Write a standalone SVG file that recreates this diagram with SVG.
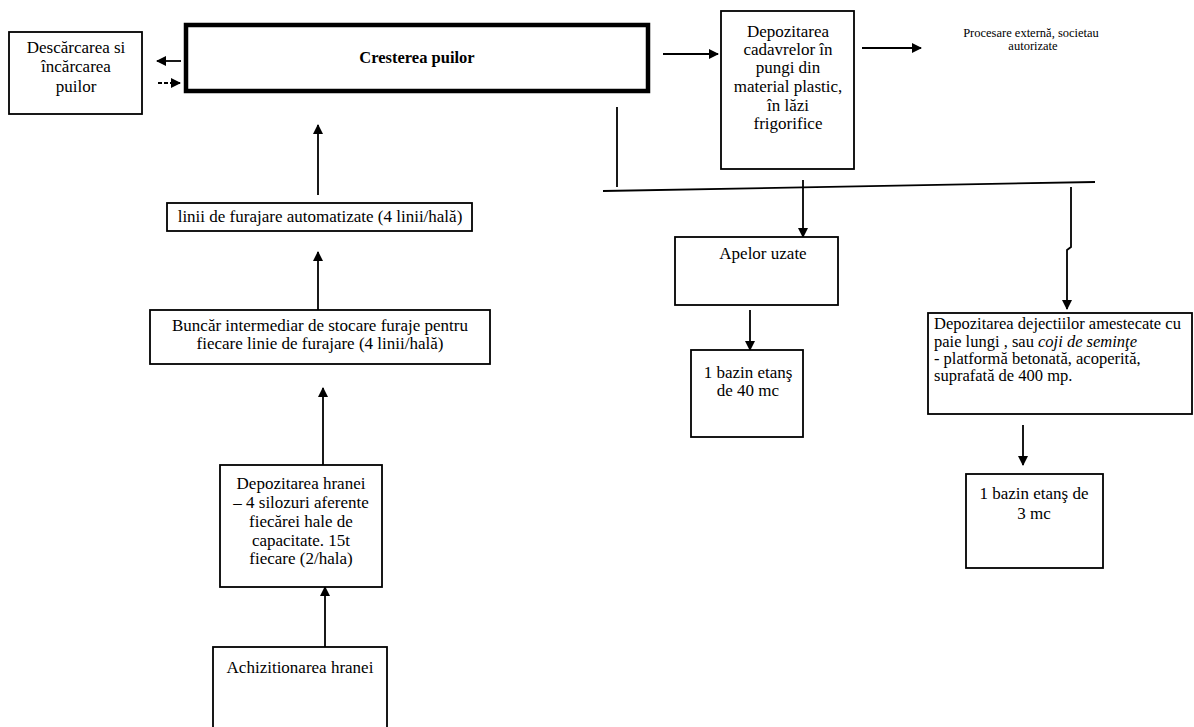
<svg xmlns="http://www.w3.org/2000/svg" width="1194" height="727" viewBox="0 0 1194 727">
<style>
.box{fill:#fff;stroke:#000;stroke-width:1.8}
.thick{fill:#fff;stroke:#000;stroke-width:4.5}
.t{font-family:"Liberation Serif","Times New Roman",serif;font-size:17px;fill:#000}
.c{text-anchor:middle}
.b{font-weight:bold;font-size:16.5px}
.s{font-size:12.5px}
.m{font-size:16.5px}
.ln{fill:none;stroke:#000;stroke-width:1.8}
.ar{fill:none;stroke:#000;stroke-width:1.8;marker-end:url(#ah)}
.da{stroke-dasharray:4 2}
</style>
<defs>
<marker id="ah" markerUnits="userSpaceOnUse" markerWidth="10" markerHeight="12" viewBox="0 0 10 12" refX="9" refY="6" orient="auto">
<path d="M0,1 L10,6 L0,11 Z" fill="#000"/>
</marker>
</defs>
<rect width="1194" height="727" fill="#fff"/>
<g id="connectors">
<line class="ar" x1="181" y1="61" x2="157" y2="61"/>
<line class="ar da" x1="158" y1="83" x2="180" y2="83"/>
<line class="ar" x1="663" y1="54" x2="718" y2="54"/>
<line class="ar" x1="862" y1="48" x2="921" y2="48"/>
<line class="ln" x1="617" y1="107" x2="617" y2="187"/>
<line class="ln" x1="603" y1="191" x2="1095" y2="182"/>
<line class="ar" x1="803" y1="180" x2="803" y2="237"/>
<polyline class="ar" points="1071,187 1071,247 1067,250 1067,309"/>
<line class="ar" x1="750" y1="310" x2="750" y2="350"/>
<line class="ar" x1="1023" y1="425" x2="1023" y2="465"/>
<line class="ar" x1="318" y1="195" x2="318" y2="125"/>
<line class="ar" x1="318" y1="310" x2="318" y2="252"/>
<line class="ar" x1="323" y1="465" x2="323" y2="388"/>
<line class="ar" x1="325" y1="647" x2="325" y2="587"/>
</g>
<g id="n-descarcarea">
<rect class="box" x="9" y="32" width="133" height="82"/>
<text class="t c" x="76" y="53">Descărcarea si</text>
<text class="t c" x="76" y="72">încărcarea</text>
<text class="t c" x="76" y="92">puilor</text>
</g>
<g id="n-cresterea">
<rect class="thick" x="186" y="25" width="462" height="66"/>
<text class="t c b" x="417" y="63">Cresterea puilor</text>
</g>
<g id="n-cadavre">
<rect class="box" x="721" y="11" width="133" height="158"/>
<text class="t c" x="788" y="37">Depozitarea</text>
<text class="t c" x="788" y="55">cadavrelor în</text>
<text class="t c" x="788" y="73">pungi din</text>
<text class="t c" x="788" y="92">material plastic,</text>
<text class="t c" x="788" y="111">în lăzi</text>
<text class="t c" x="788" y="129">frigorifice</text>
</g>
<g id="n-procesare">
<text class="t c s" x="1031" y="37">Procesare externă, societau</text>
<text class="t c s" x="1033" y="50">autorizate</text>
</g>
<g id="n-linii">
<rect class="box" x="167" y="203" width="305" height="28"/>
<text class="t c" x="320" y="222">linii de furajare automatizate (4 linii/hală)</text>
</g>
<g id="n-buncar">
<rect class="box" x="150" y="310" width="340" height="54"/>
<text class="t c" x="320" y="331">Buncăr intermediar de stocare furaje pentru</text>
<text class="t c" x="320" y="349">fiecare linie de furajare (4 linii/hală)</text>
</g>
<g id="n-hrana">
<rect class="box" x="220" y="465" width="162" height="122"/>
<text class="t c" x="301" y="489">Depozitarea hranei</text>
<text class="t c" x="301" y="508">– 4 silozuri aferente</text>
<text class="t c" x="301" y="527">fiecărei hale de</text>
<text class="t c" x="301" y="546">capacitate. 15t</text>
<text class="t c" x="301" y="564">fiecare (2/hala)</text>
</g>
<g id="n-achizitionarea">
<rect class="box" x="213" y="647" width="174" height="90"/>
<text class="t c" x="300" y="673">Achizitionarea hranei</text>
</g>
<g id="n-apelor">
<rect class="box" x="675" y="237" width="163" height="68"/>
<text class="t c" x="763" y="259">Apelor uzate</text>
</g>
<g id="n-bazin40">
<rect class="box" x="691" y="350" width="112" height="87"/>
<text class="t c" x="748" y="378">1 bazin etanş</text>
<text class="t c" x="748" y="396">de 40 mc</text>
</g>
<g id="n-dejectii">
<rect class="box" x="928" y="313" width="264" height="101"/>
<text class="t m" x="934" y="329">Depozitarea dejectiilor amestecate cu</text>
<text class="t m" x="934" y="347">paie lungi , sau <tspan font-style="italic">coji de seminţe</tspan></text>
<text class="t m" x="934" y="364">- platformă betonată, acoperită,</text>
<text class="t m" x="934" y="381">suprafată de 400 mp.</text>
</g>
<g id="n-bazin3">
<rect class="box" x="966" y="474" width="137" height="94"/>
<text class="t c" x="1034" y="499">1 bazin etanş de</text>
<text class="t c" x="1034" y="519">3 mc</text>
</g>
</svg>
